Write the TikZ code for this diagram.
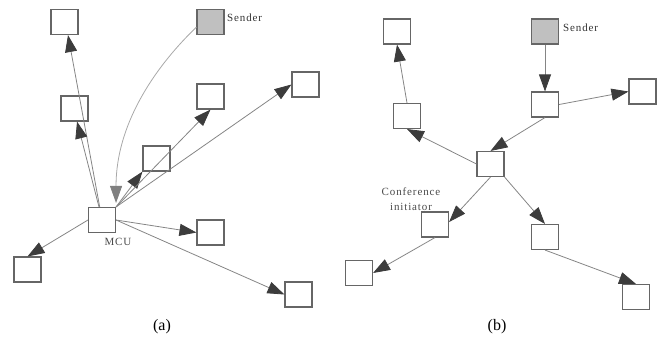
\documentclass[tikz,border=0pt]{standalone}
\usepackage{fontspec}
\setmainfont{Liberation Serif}
\newfontfamily\lblfont[LetterSpace=8]{Liberation Serif}
\usetikzlibrary{arrows.meta}
\definecolor{boxline}{HTML}{666666}
\definecolor{boxfill}{HTML}{C0C0C0}
\definecolor{edgeline}{HTML}{858585}
\definecolor{tipgray}{HTML}{3C3C3C}
\definecolor{curvegray}{HTML}{A8A8A8}
\definecolor{curvetip}{HTML}{808080}
\definecolor{lblgray}{HTML}{4A4A4A}
\tikzset{
  box/.style={draw=boxline, line width=1.1pt, fill=white, minimum width=27pt, minimum height=25pt, inner sep=0pt},
  sendbox/.style={box, fill=boxfill},
  edge/.style={draw=edgeline, line width=0.8pt, -{Triangle[length=17pt,width=12pt,color=tipgray]}},
  curvedge/.style={draw=curvegray, line width=0.8pt, -{Triangle[length=17pt,width=12pt,color=curvetip]}},
  lbl/.style={font=\lblfont\fontsize{11}{14.5}\selectfont, text=lblgray, inner sep=0pt},
  sendlbl/.style={font=\lblfont\fontsize{11}{12}\selectfont, text=black!80, inner sep=0pt},
  caption/.style={font=\fontsize{16}{18}\selectfont, inner sep=0pt}
}
\begin{document}
\begin{tikzpicture}[x=1pt,y=-1pt]
\useasboundingbox (0,0) rectangle (660,341);
% ---------- panel (a) ----------
\node[box] (a1) at (64.5,22) {};
\node[sendbox] (sa) at (210.5,22) {};
\node[box] (a2) at (74.5,108.5) {};
\node[box] (a3) at (210.5,96.5) {};
\node[box] (a4) at (305.5,84.5) {};
\node[box] (a5) at (156.5,158.5) {};
\node[box] (mcu) at (102,220) {};
\node[box] (a6) at (210.5,232.5) {};
\node[box] (a7) at (27.5,269.5) {};
\node[box] (a8) at (298.5,294.5) {};
\node[sendlbl, anchor=west] (sal) at (227,17.5) {Sender};
\node[lbl] (mcul) at (118,241.5) {MCU};
\node[caption] (capa) at (162,327) {(a)};

\draw[curvedge, shorten >=4pt] (sa.200) .. controls (160,62) and (116,120) .. (mcu.north east);
\draw[edge] (mcu.100) -- (a1.-75);
\draw[edge] (mcu.103) -- (a2.-79);
\draw[edge] (mcu.north east) -- (a5.south west);
\draw[edge] (mcu.north east) -- (a3.south);
\draw[edge] (mcu.north east) -- (a4.west);
\draw[edge] (mcu.east) -- (a6.west);
\draw[edge] (mcu.east) -- (a8.west);
\draw[edge] (mcu.west) -- (a7.north);

% ---------- panel (b) ----------
\node[box] (b1) at (397,31.5) {};
\node[sendbox] (sb) at (545,31.5) {};
\node[box] (b2) at (545,104.5) {};
\node[box] (b3) at (642.5,91.5) {};
\node[box] (b4) at (407,116) {};
\node[box] (b5) at (490.5,164) {};
\node[box] (b6) at (435,224.5) {};
\node[box] (b7) at (545,237) {};
\node[box] (b8) at (359,273) {};
\node[box] (b9) at (636,297) {};
\node[sendlbl, anchor=west] (sbl) at (563,28) {Sender};
\node[lbl, align=center] (cil) at (411,199) {Conference\\initiator};
\node[caption] (capb) at (497,327) {(b)};

\draw[edge] (sb.south) -- (b2.north);
\draw[edge] (b2.east) -- (b3.west);
\draw[edge] (b2.south) -- (b5.north);
\draw[edge] (b5.west) -- (b4.south);
\draw[edge] (b4.north) -- (b1.south);
\draw[edge] (b5.south) -- (b6.10);
\draw[edge] (b5.south east) -- (b7.north);
\draw[edge] (b6.south) -- (b8.east);
\draw[edge] (b7.south) -- (b9.north);
\end{tikzpicture}
\end{document}
